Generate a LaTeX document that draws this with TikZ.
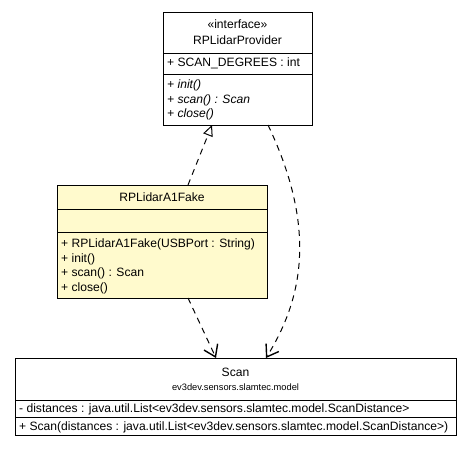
\documentclass[tikz,border=0pt]{standalone}
\usepackage{fontspec}
\setmainfont{Liberation Sans}
\usetikzlibrary{arrows.meta}
\definecolor{fakefill}{HTML}{FFFACD}
\tikzset{
  umlbox/.style={draw=black, line width=0.9bp, anchor=north west, inner sep=0pt, outer sep=0pt},
  divider/.style={draw=black, line width=0.9bp},
  txt/.style={font=\fontsize{12.1bp}{14bp}\selectfont, inner sep=0pt, anchor=base},
  ltxt/.style={font=\fontsize{12.1bp}{14bp}\selectfont, inner sep=0pt, anchor=base west},
  itxt/.style={font=\fontsize{12.1bp}{14bp}\selectfont\itshape, inner sep=0pt, anchor=base west},
  pkg/.style={font=\fontsize{9.3bp}{11bp}\selectfont, inner sep=0pt, anchor=base},
  dep/.style={dashed, dash pattern=on 6bp off 5bp, line width=1bp, -{Straight Barb[length=11bp, width=15bp, line width=1.4bp]}},
  real/.style={dashed, dash pattern=on 6bp off 5bp, line width=1bp, -{Triangle[open, length=11bp, width=10bp, line width=1bp]}}
}
\begin{document}
\begin{tikzpicture}[x=1bp, y=-1bp]
\useasboundingbox[fill=white] (0,0) rectangle (475,451);

% RPLidarProvider
\node[umlbox, minimum width=149bp, minimum height=113bp] (prov) at (163,12) {};
\draw[divider] (163,53) -- (312,53);
\draw[divider] (163,74) -- (312,74);
\node[txt] (provst) at (237.5,29) {«interface»};
\node[txt] (provname) at (237.5,45) {RPLidarProvider};
\node[ltxt] (provattr) at (167,67) {+ SCAN\_DEGREES : int};
\node[itxt] (provm1) at (167,89) {+ init()};
\node[itxt] (provm2) at (167,104) {+ scan() : Scan};
\node[itxt] (provm3) at (167,118) {+ close()};

% RPLidarA1Fake
\node[umlbox, fill=fakefill, minimum width=210bp, minimum height=113bp] (fake) at (57,185) {};
\draw[divider] (57,209) -- (267,209);
\draw[divider] (57,232) -- (267,232);
\node[txt] (fakename) at (162,201.5) {RPLidarA1Fake};
\node[ltxt] (fakem1) at (61,247.5) {+ RPLidarA1Fake(USBPort : String)};
\node[ltxt] (fakem2) at (61,262) {+ init()};
\node[ltxt] (fakem3) at (61,276.5) {+ scan() : Scan};
\node[ltxt] (fakem4) at (61,291) {+ close()};

% Scan
\node[umlbox, minimum width=441bp, minimum height=77bp] (scan) at (15,358) {};
\draw[divider] (15,400) -- (456,400);
\draw[divider] (15,417) -- (456,417);
\node[txt] (scanname) at (235.5,376.5) {Scan};
\node[pkg] (scanpkg) at (235.5,390) {ev3dev.sensors.slamtec.model};
\node[ltxt] (scanattr) at (19,412.5) {- distances : java.util.List<ev3dev.sensors.slamtec.model.ScanDistance>};
\node[ltxt] (scanm1) at (19,430.5) {+ Scan(distances : java.util.List<ev3dev.sensors.slamtec.model.ScanDistance>)};

% connector end points on the box borders
\coordinate (fakeTop) at (188,185);
\coordinate (provBotL) at (212,125);
\coordinate (fakeBot) at (188,298);
\coordinate (scanTopL) at (216,358);
\coordinate (provBotR) at (268,125);
\coordinate (scanTopR) at (266,358);

\draw[real] (fakeTop) -- (provBotL);
\draw[dep] (fakeBot) -- (scanTopL);
\draw[dep] (provBotR) .. controls (318,230) and (302,300) .. (scanTopR);
\end{tikzpicture}
\end{document}
